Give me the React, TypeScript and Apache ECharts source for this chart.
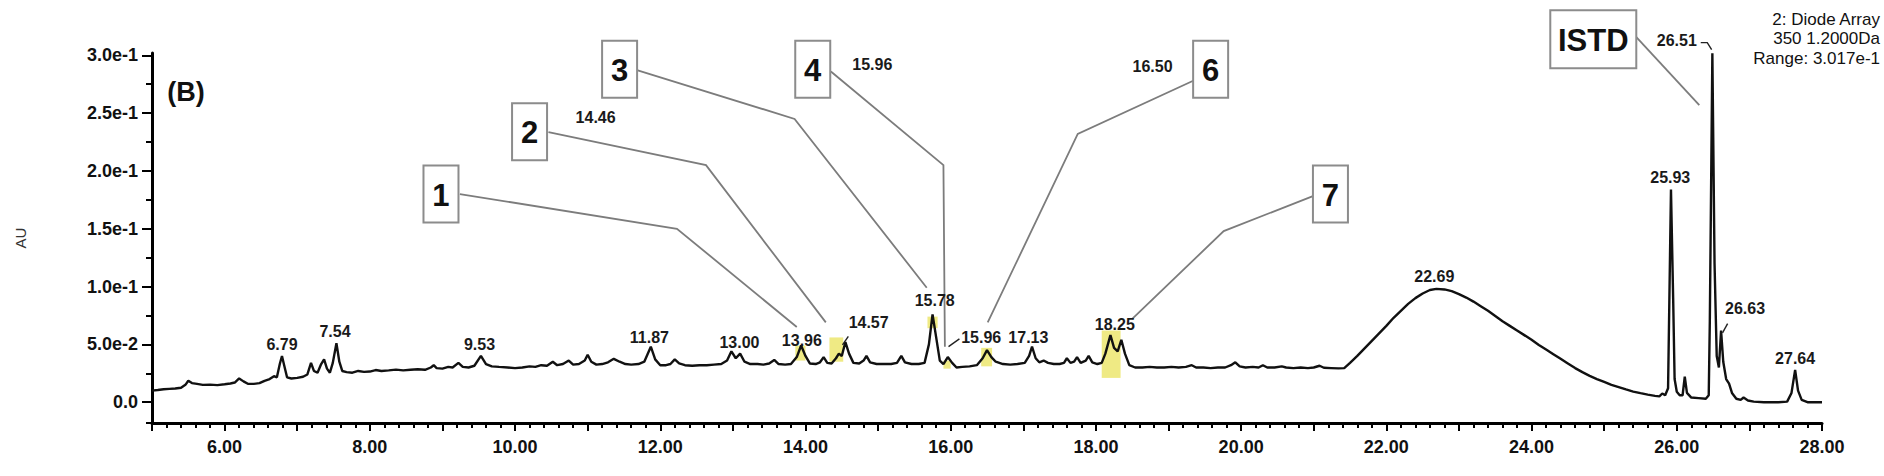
import React, { useEffect, useRef } from "react";
import * as echarts from "echarts";

// Chromatogram trace: [retention time (min), absorbance (AU)]
const TRACE: [number, number][] = [
  [5.0, 0.01], [5.08, 0.0105], [5.16, 0.0112], [5.24, 0.0115], [5.32, 0.0118], [5.4, 0.0125], [5.46, 0.015], [5.5, 0.0185], [5.55, 0.0165], [5.62, 0.0158], [5.7, 0.015], [5.8, 0.0152], [5.9, 0.0148], [6.0, 0.0155], [6.08, 0.0162], [6.14, 0.017], [6.2, 0.0205], [6.26, 0.018], [6.32, 0.016], [6.4, 0.0158], [6.48, 0.0165], [6.55, 0.0185], [6.62, 0.02], [6.68, 0.0225], [6.72, 0.0215], [6.76, 0.033], [6.79, 0.04], [6.82, 0.032], [6.86, 0.0215], [6.92, 0.0205], [7.0, 0.021], [7.08, 0.022], [7.14, 0.024], [7.19, 0.034], [7.23, 0.027], [7.28, 0.0255], [7.33, 0.033], [7.37, 0.037], [7.41, 0.029], [7.45, 0.0255], [7.49, 0.034], [7.54, 0.051], [7.58, 0.035], [7.62, 0.027], [7.68, 0.026], [7.76, 0.0255], [7.84, 0.027], [7.92, 0.0262], [8.0, 0.0265], [8.08, 0.0278], [8.16, 0.027], [8.26, 0.0275], [8.36, 0.0282], [8.46, 0.0275], [8.56, 0.028], [8.66, 0.0285], [8.76, 0.028], [8.84, 0.03], [8.88, 0.032], [8.92, 0.0295], [9.0, 0.029], [9.08, 0.0305], [9.14, 0.03], [9.22, 0.034], [9.28, 0.0305], [9.36, 0.03], [9.44, 0.0315], [9.53, 0.04], [9.6, 0.033], [9.68, 0.031], [9.78, 0.0305], [9.9, 0.03], [10.0, 0.0295], [10.1, 0.03], [10.2, 0.031], [10.28, 0.0305], [10.36, 0.032], [10.44, 0.0315], [10.52, 0.035], [10.58, 0.032], [10.66, 0.033], [10.74, 0.036], [10.8, 0.0325], [10.88, 0.033], [10.96, 0.036], [11.0, 0.041], [11.05, 0.035], [11.12, 0.0325], [11.2, 0.033], [11.28, 0.0345], [11.36, 0.0375], [11.44, 0.035], [11.52, 0.033], [11.6, 0.0325], [11.7, 0.033], [11.78, 0.035], [11.87, 0.048], [11.93, 0.037], [12.0, 0.032], [12.08, 0.032], [12.14, 0.033], [12.2, 0.037], [12.26, 0.0335], [12.34, 0.032], [12.44, 0.0315], [12.54, 0.032], [12.64, 0.032], [12.74, 0.0325], [12.84, 0.033], [12.92, 0.036], [12.98, 0.044], [13.04, 0.038], [13.1, 0.042], [13.16, 0.035], [13.24, 0.033], [13.34, 0.033], [13.42, 0.0325], [13.5, 0.0335], [13.57, 0.0365], [13.63, 0.033], [13.72, 0.0325], [13.8, 0.033], [13.88, 0.039], [13.94, 0.049], [14.0, 0.04], [14.06, 0.0335], [14.14, 0.033], [14.2, 0.0345], [14.25, 0.039], [14.3, 0.034], [14.36, 0.0335], [14.42, 0.038], [14.46, 0.042], [14.5, 0.04], [14.55, 0.052], [14.6, 0.042], [14.66, 0.034], [14.74, 0.0335], [14.8, 0.036], [14.84, 0.04], [14.89, 0.0345], [14.98, 0.033], [15.08, 0.033], [15.18, 0.033], [15.26, 0.034], [15.32, 0.04], [15.37, 0.0345], [15.46, 0.033], [15.56, 0.033], [15.64, 0.034], [15.7, 0.05], [15.75, 0.076], [15.8, 0.056], [15.85, 0.036], [15.9, 0.033], [15.96, 0.039], [16.02, 0.034], [16.08, 0.03], [16.16, 0.0305], [16.26, 0.031], [16.36, 0.032], [16.44, 0.038], [16.5, 0.045], [16.56, 0.039], [16.62, 0.035], [16.72, 0.033], [16.82, 0.0325], [16.92, 0.033], [17.02, 0.034], [17.08, 0.04], [17.12, 0.048], [17.17, 0.038], [17.22, 0.0345], [17.28, 0.036], [17.34, 0.034], [17.42, 0.033], [17.5, 0.033], [17.56, 0.034], [17.6, 0.038], [17.65, 0.034], [17.7, 0.035], [17.74, 0.039], [17.79, 0.034], [17.86, 0.036], [17.9, 0.04], [17.95, 0.0345], [18.02, 0.033], [18.08, 0.034], [18.13, 0.042], [18.2, 0.058], [18.25, 0.047], [18.3, 0.044], [18.35, 0.054], [18.4, 0.042], [18.46, 0.032], [18.54, 0.03], [18.64, 0.03], [18.74, 0.0305], [18.84, 0.03], [18.94, 0.03], [19.04, 0.0305], [19.14, 0.03], [19.24, 0.0305], [19.32, 0.032], [19.38, 0.03], [19.48, 0.03], [19.58, 0.0295], [19.68, 0.03], [19.78, 0.03], [19.86, 0.032], [19.92, 0.0345], [19.98, 0.031], [20.06, 0.03], [20.16, 0.0305], [20.24, 0.03], [20.3, 0.032], [20.36, 0.03], [20.46, 0.03], [20.56, 0.031], [20.62, 0.03], [20.72, 0.0295], [20.82, 0.03], [20.92, 0.0295], [21.0, 0.03], [21.08, 0.0315], [21.14, 0.0298], [21.24, 0.0295], [21.34, 0.0292], [21.42, 0.0295], [21.5, 0.034], [21.6, 0.04], [21.7, 0.0465], [21.8, 0.053], [21.9, 0.0595], [22.0, 0.066], [22.1, 0.073], [22.2, 0.079], [22.3, 0.085], [22.4, 0.09], [22.5, 0.094], [22.6, 0.097], [22.69, 0.098], [22.8, 0.0975], [22.9, 0.096], [23.0, 0.0935], [23.1, 0.0905], [23.2, 0.087], [23.3, 0.083], [23.4, 0.079], [23.5, 0.0745], [23.6, 0.07], [23.7, 0.066], [23.8, 0.062], [23.9, 0.058], [24.0, 0.054], [24.1, 0.0495], [24.2, 0.0455], [24.3, 0.0415], [24.4, 0.0375], [24.5, 0.0335], [24.6, 0.0295], [24.7, 0.026], [24.8, 0.0228], [24.9, 0.02], [25.0, 0.0175], [25.1, 0.015], [25.2, 0.013], [25.3, 0.011], [25.4, 0.0092], [25.5, 0.0078], [25.6, 0.0065], [25.7, 0.0055], [25.76, 0.005], [25.8, 0.0075], [25.84, 0.006], [25.88, 0.012], [25.92, 0.184], [25.95, 0.09], [25.97, 0.02], [26.0, 0.009], [26.04, 0.006], [26.08, 0.006], [26.11, 0.022], [26.14, 0.008], [26.2, 0.004], [26.3, 0.0035], [26.4, 0.003], [26.44, 0.006], [26.455, 0.07], [26.49, 0.3017], [26.52, 0.12], [26.55, 0.04], [26.58, 0.03], [26.61, 0.062], [26.64, 0.035], [26.68, 0.02], [26.72, 0.016], [26.76, 0.008], [26.82, 0.003], [26.88, 0.002], [26.92, 0.004], [26.98, 0.0015], [27.06, 0.0005], [27.2, 0.0], [27.4, 0.0], [27.52, 0.0005], [27.58, 0.008], [27.63, 0.028], [27.67, 0.01], [27.72, 0.002], [27.8, 0.0], [28.0, 0.0],
];

const Y_TICKS = [0, 0.05, 0.1, 0.15, 0.2, 0.25, 0.3];
const Y_TICK_LABELS = ["0.0", "5.0e-2", "1.0e-1", "1.5e-1", "2.0e-1", "2.5e-1", "3.0e-1"];
const Y_MINOR = [-0.0175, 0.025, 0.075, 0.125, 0.175, 0.225, 0.275];

// Peak retention-time labels: [text, time, AU of label centre]
const PEAK_LABELS: [string, number, number][] = [
  ["6.79", 6.79, 0.05], ["7.54", 7.52, 0.061], ["9.53", 9.51, 0.05], ["11.87", 11.85, 0.056],
  ["13.00", 13.09, 0.052], ["13.96", 13.95, 0.053], ["14.57", 14.87, 0.069], ["15.78", 15.78, 0.088],
  ["15.96", 16.42, 0.056], ["17.13", 17.07, 0.056], ["18.25", 18.26, 0.067], ["22.69", 22.66, 0.109],
  ["25.93", 25.91, 0.194], ["26.51", 26.0, 0.313], ["26.63", 26.94, 0.081], ["27.64", 27.63, 0.038],
  ["14.46", 11.11, 0.246], ["15.96", 14.92, 0.292], ["16.50", 18.78, 0.29],
];

// Compound boxes: [text, time, AU of box centre]
const BOXES: [string, number, number][] = [
  ["1", 8.98, 0.18], ["2", 10.2, 0.234], ["3", 11.44, 0.288], ["4", 14.1, 0.288],
  ["6", 19.58, 0.288], ["7", 21.23, 0.18], ["ISTD", 24.85, 0.314],
];

// Leader lines from boxes to peaks
const LEADERS: [number, number][][] = [
  [[9.24, 0.18], [12.23, 0.15], [13.88, 0.065]],
  [[10.46, 0.2335], [12.63, 0.205], [14.28, 0.069]],
  [[11.69, 0.287], [13.85, 0.245], [15.67, 0.099]],
  [[14.35, 0.286], [15.9, 0.205], [15.92, 0.048]],
  [[19.34, 0.278], [17.75, 0.232], [16.51, 0.069]],
  [[20.98, 0.178], [19.76, 0.148], [18.5, 0.072]],
  [[25.44, 0.316], [26.31, 0.257]],
];

// Short label hooks
const HOOKS: [number, number][][] = [
  [[26.33, 0.311], [26.42, 0.311], [26.48, 0.305]],
  [[14.59, 0.057], [14.51, 0.0495]],
  [[16.12, 0.0547], [15.97, 0.048]],
  [[26.7, 0.068], [26.63, 0.06]],
];

// Highlighted peak regions: [t1, v1, t2, v2]
const HIGHLIGHTS: [number, number, number, number][] = [
  [13.86, 0.036, 14.0, 0.049], [14.33, 0.035, 14.52, 0.056], [15.68, 0.064, 15.82, 0.074],
  [15.9, 0.029, 16.0, 0.036], [16.42, 0.031, 16.57, 0.047], [18.08, 0.021, 18.34, 0.062],
];

const INFO_LINES = ["2: Diode Array", "350 1.2000Da", "Range: 3.017e-1"];

const FONT = '"Liberation Sans", Arial, sans-serif';

export default function App() {
  const ref = useRef<HTMLDivElement>(null);
  useEffect(() => {
    if (!ref.current) return;
    const chart = echarts.init(ref.current, null, { renderer: "svg" });
    const option: any = {
      animation: false,
      backgroundColor: "#ffffff",
      grid: { left: 152, right: 62, top: 53, bottom: 53 },
      xAxis: {
        type: "value",
        min: 5,
        max: 28,
        interval: 1,
        axisLine: { onZero: false, lineStyle: { color: "#000", width: 3 } },
        axisTick: { length: 8, lineStyle: { color: "#000", width: 2 } },
        minorTick: { show: true, splitNumber: 5, length: 5, lineStyle: { color: "#000", width: 2 } },
        splitLine: { show: false },
        axisLabel: {
          margin: 15,
          color: "#111",
          fontFamily: FONT,
          fontWeight: "bold",
          fontSize: 18,
          formatter: (v: number) => (Math.round(v) % 2 === 0 ? v.toFixed(2) : ""),
        },
      },
      yAxis: [
        {
          type: "value",
          min: -0.018,
          max: 0.302,
          name: "AU",
          nameLocation: "middle",
          nameGap: 124,
          nameTextStyle: { fontFamily: FONT, fontSize: 15, color: "#333" },
          axisLine: { show: true, lineStyle: { color: "#000", width: 3 } },
          axisTick: { show: true, length: 10, customValues: Y_TICKS, lineStyle: { color: "#000", width: 2 } },
          splitLine: { show: false },
          axisLabel: {
            margin: 14,
            customValues: Y_TICKS,
            color: "#111",
            fontFamily: FONT,
            fontWeight: "bold",
            fontSize: 18,
            formatter: (v: number) => {
              const i = Y_TICKS.findIndex((t) => Math.abs(t - v) < 1e-6);
              return i >= 0 ? Y_TICK_LABELS[i] : "";
            },
          },
        },
        {
          type: "value",
          min: -0.018,
          max: 0.302,
          position: "left",
          axisLine: { show: false },
          axisTick: { show: true, length: 6, customValues: Y_MINOR, lineStyle: { color: "#000", width: 2 } },
          axisLabel: { show: false },
          splitLine: { show: false },
        },
      ],
      series: [
        {
          type: "line",
          data: TRACE,
          showSymbol: false,
          symbol: "none",
          lineStyle: { color: "#111", width: 2.4 },
          markArea: {
            silent: true,
            itemStyle: { color: "rgba(236,230,110,0.85)" },
            data: HIGHLIGHTS.map(([t1, v1, t2, v2]) => [{ coord: [t1, v1] }, { coord: [t2, v2] }]),
          },
          z: 3,
        },
      ],
    };
    chart.setOption(option);

    const px = (p: [number, number]) => chart.convertToPixel({ seriesIndex: 0 }, p) as number[];
    const graphics: any[] = [];

    LEADERS.forEach((pts) => {
      graphics.push({
        type: "polyline",
        shape: { points: pts.map(px) },
        style: { stroke: "#7c7c7c", lineWidth: 1.8, fill: null },
        z: 10,
      });
    });
    HOOKS.forEach((pts) => {
      graphics.push({
        type: "polyline",
        shape: { points: pts.map(px) },
        style: { stroke: "#222", lineWidth: 1.4, fill: null },
        z: 10,
      });
    });
    BOXES.forEach(([text, t, v]) => {
      const [cx, cy] = px([t, v]);
      const w = text.length > 1 ? 86 : 35;
      const h = text.length > 1 ? 58 : 57;
      graphics.push({
        type: "rect",
        shape: { x: cx - w / 2, y: cy - h / 2, width: w, height: h },
        style: { fill: "#fff", stroke: "#8c8c8c", lineWidth: 2 },
        z: 11,
      });
      graphics.push({
        type: "text",
        x: cx,
        y: cy + 1,
        style: {
          text,
          align: "center",
          verticalAlign: "middle",
          font: `bold 31px ${FONT}`,
          fill: "#111",
        },
        z: 12,
      });
    });
    PEAK_LABELS.forEach(([text, t, v]) => {
      const [cx, cy] = px([t, v]);
      graphics.push({
        type: "text",
        x: cx,
        y: cy,
        style: { text, align: "center", verticalAlign: "middle", font: `bold 16px ${FONT}`, fill: "#1a1a1a" },
        z: 12,
      });
    });
    INFO_LINES.forEach((text, i) => {
      graphics.push({
        type: "text",
        x: 1880,
        y: 19 + i * 19.5,
        style: { text, align: "right", verticalAlign: "middle", font: `17px ${FONT}`, fill: "#111" },
        z: 12,
      });
    });
    graphics.push({
      type: "text",
      x: 186,
      y: 92,
      style: { text: "(B)", align: "center", verticalAlign: "middle", font: `bold 27px ${FONT}`, fill: "#111" },
      z: 12,
    });
    chart.setOption({ graphic: graphics });
    return () => chart.dispose();
  }, []);
  return (
    <div
      ref={ref}
      style={{ position: "fixed", left: 0, top: 0, width: 1884, height: 476, background: "#fff" }}
    />
  );
}
